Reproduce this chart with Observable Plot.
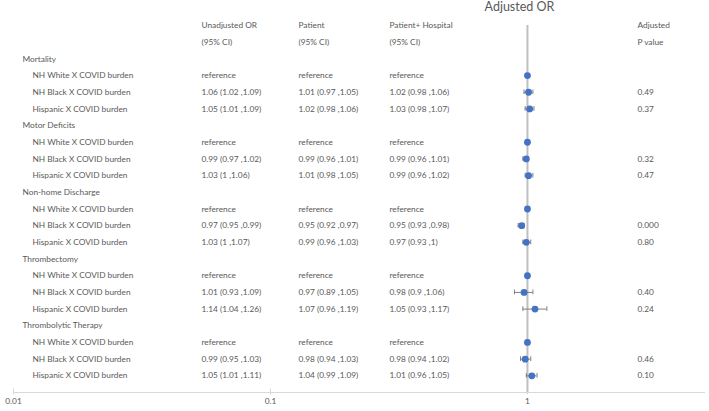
<!DOCTYPE html>
<html>
<head>
<meta charset="utf-8">
<script src="https://cdn.jsdelivr.net/npm/d3@7"></script>
<script src="https://cdn.jsdelivr.net/npm/@observablehq/plot@0.6"></script>
<style>
  html, body { margin: 0; padding: 0; background: #fff; }
  #chart svg { display: block; }
</style>
</head>
<body>
<div id="chart"></div>
<script>
const groups = ["Mortality", "Motor Deficits", "Non-home Discharge", "Thrombectomy", "Thrombolytic Therapy"];
const subgroups = ["NH White X COVID burden", "NH Black X COVID burden", "Hispanic X COVID burden"];

const unadjustedText = [
  "reference", "1.06 (1.02 ,1.09)", "1.05 (1.01 ,1.09)",
  "reference", "0.99 (0.97 ,1.02)", "1.03 (1 ,1.06)",
  "reference", "0.97 (0.95 ,0.99)", "1.03 (1 ,1.07)",
  "reference", "1.01 (0.93 ,1.09)", "1.14 (1.04 ,1.26)",
  "reference", "0.99 (0.95 ,1.03)", "1.05 (1.01 ,1.11)"
];
const patientText = [
  "reference", "1.01 (0.97 ,1.05)", "1.02 (0.98 ,1.06)",
  "reference", "0.99 (0.96 ,1.01)", "1.01 (0.98 ,1.05)",
  "reference", "0.95 (0.92 ,0.97)", "0.99 (0.96 ,1.03)",
  "reference", "0.97 (0.89 ,1.05)", "1.07 (0.96 ,1.19)",
  "reference", "0.98 (0.94 ,1.03)", "1.04 (0.99 ,1.09)"
];
const hospitalText = [
  "reference", "1.02 (0.98 ,1.06)", "1.03 (0.98 ,1.07)",
  "reference", "0.99 (0.96 ,1.01)", "0.99 (0.96 ,1.02)",
  "reference", "0.95 (0.93 ,0.98)", "0.97 (0.93 ,1)",
  "reference", "0.98 (0.9 ,1.06)", "1.05 (0.93 ,1.17)",
  "reference", "0.98 (0.94 ,1.02)", "1.01 (0.96 ,1.05)"
];
const pValues = [
  "", "0.49", "0.37",
  "", "0.32", "0.47",
  "", "0.000", "0.80",
  "", "0.40", "0.24",
  "", "0.46", "0.10"
];
// Plotted odds ratios (patient-adjusted) with 95% CI
const orValue = [1, 1.01, 1.02, 1, 0.99, 1.01, 1, 0.95, 0.99, 1, 0.97, 1.07, 1, 0.98, 1.04];
const orLow   = [null, 0.97, 0.98, null, 0.96, 0.98, null, 0.92, 0.96, null, 0.89, 0.96, null, 0.94, 0.99];
const orHigh  = [null, 1.05, 1.06, null, 1.01, 1.05, null, 0.97, 1.03, null, 1.05, 1.19, null, 1.03, 1.09];

const headerTop = ["Unadjusted OR", "Patient", "Patient+ Hospital", "Adjusted"];
const headerBottom = ["(95% CI)", "(95% CI)", "(95% CI)", "P value"];
const xTicks = [0.01, 0.1, 1];
const xTickLabels = ["0.01", "0.1", "1"];

// Build rows
const groupRows = groups.map((g, gi) => ({label: g, row: gi * 4}));
const rows = [];
groups.forEach((g, gi) => {
  subgroups.forEach((s, si) => {
    const k = gi * 3 + si;
    rows.push({
      label: s, row: gi * 4 + 1 + si,
      unadj: unadjustedText[k], patient: patientText[k], hosp: hospitalText[k], p: pValues[k],
      or: orValue[k], lo: orLow[k], hi: orHigh[k]
    });
  });
});
const ciRows = rows.filter(d => d.lo != null);
const headerCols = headerTop.map((t, i) => [{row: -2, text: t}, {row: -1, text: headerBottom[i]}]);

const colDx = [188, 285, 376, 624];
const textColor = "#595959";
const font = "Lato, 'Open Sans', sans-serif";
const fs = 8.3;
const capHalf = 0.14;
const barColor = "#7f7f7f";

const txt = (data, opts) => Plot.text(data, Object.assign({
  frameAnchor: "left", textAnchor: "start", fill: textColor, fontSize: fs
}, opts));

const chart = Plot.plot({
  width: 709,
  height: 411,
  marginLeft: 13,
  marginRight: 4,
  marginTop: 25,
  marginBottom: 19,
  style: {fontFamily: font, color: textColor, background: "#fff"},
  x: {type: "log", domain: [0.01, 4.93]},
  y: {domain: [-2, 20], reverse: true, axis: null},
  marks: [
    Plot.ruleY([20], {stroke: "#d9d9d9", strokeWidth: 1}),
    Plot.axisX({ticks: xTicks, tickFormat: d => xTickLabels[xTicks.indexOf(d)], tickSize: 6, dy: -3.5, tickPadding: 3.5,
      stroke: "#d9d9d9", fill: textColor, fontSize: fs, label: null}),
    Plot.ruleX([1], {y1: -2, y2: 20, stroke: "#bfbfbf", strokeWidth: 2}),
    Plot.text(["Adjusted OR"], {x: 1, y: -3.08, dx: -8, text: d => d, fill: textColor, fontSize: 12.5}),
    txt(groupRows, {y: "row", text: "label", dx: 9}),
    txt(rows, {y: "row", text: "label", dx: 19}),
    txt(rows, {y: "row", text: "unadj", dx: colDx[0]}),
    txt(rows, {y: "row", text: "patient", dx: colDx[1]}),
    txt(rows, {y: "row", text: "hosp", dx: colDx[2]}),
    txt(rows, {y: "row", text: "p", dx: colDx[3]}),
    ...headerCols.map((h, i) => txt(h, {y: "row", text: "text", dx: colDx[i]})),
    Plot.ruleY(ciRows, {y: "row", x1: "lo", x2: "hi", stroke: barColor, strokeWidth: 1}),
    Plot.ruleX(ciRows, {x: "lo", y1: d => d.row - capHalf, y2: d => d.row + capHalf, stroke: barColor, strokeWidth: 1}),
    Plot.ruleX(ciRows, {x: "hi", y1: d => d.row - capHalf, y2: d => d.row + capHalf, stroke: barColor, strokeWidth: 1}),
    Plot.dot(rows, {x: "or", y: "row", r: 3.4, fill: "#4472C4", stroke: "none"})
  ]
});
document.getElementById("chart").append(chart);
</script>
</body>
</html>
